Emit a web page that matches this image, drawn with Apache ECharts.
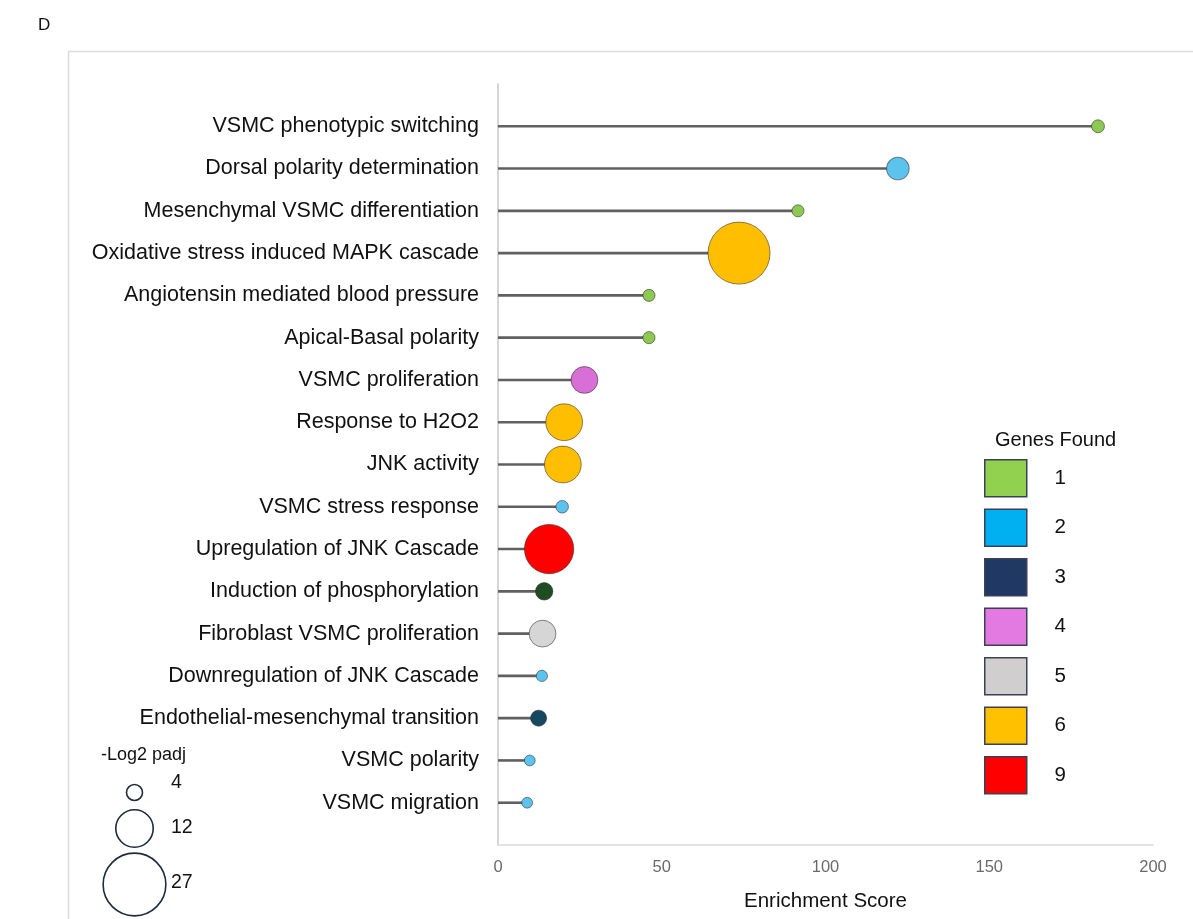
<!DOCTYPE html>
<html>
<head>
<meta charset="utf-8">
<script src="https://cdn.jsdelivr.net/npm/echarts@6/dist/echarts.min.js"></script>
<style>
  html, body { margin: 0; padding: 0; background: #ffffff; }
  #chart { width: 1193px; height: 919px; }
</style>
</head>
<body>
<div id="chart"></div>
<script>
// Pathway terms, top to bottom
const pathways = [
  'VSMC phenotypic switching',
  'Dorsal polarity determination',
  'Mesenchymal VSMC differentiation',
  'Oxidative stress induced MAPK cascade',
  'Angiotensin mediated blood pressure',
  'Apical-Basal polarity',
  'VSMC proliferation',
  'Response to H2O2',
  'JNK activity',
  'VSMC stress response',
  'Upregulation of JNK Cascade',
  'Induction of phosphorylation',
  'Fibroblast VSMC proliferation',
  'Downregulation of JNK Cascade',
  'Endothelial-mesenchymal transition',
  'VSMC polarity',
  'VSMC migration'
];
const enrichmentScore = [183.2, 122.1, 91.6, 73.6, 46.1, 46.1, 26.4, 20.2, 19.8, 19.6, 15.6, 14.1, 13.6, 13.4, 12.4, 9.7, 8.9];
const negLog2Padj   = [3.2, 6.0, 3.0, 26.5, 3.0, 3.0, 7.5, 11.7, 11.7, 3.1, 18.3, 4.4, 7.5, 2.8, 4.0, 2.7, 2.7];
const genesFound    = [1, 2, 1, 6, 1, 1, 4, 6, 6, 2, 9, 3, 5, 2, 3, 2, 2];

// Legend keys
const geneGroups = [1, 2, 3, 4, 5, 6, 9];
const sizeKeys = [4, 12, 27];
const xTicks = [0, 50, 100, 150, 200];

// Styling
const legendColor = { 1: '#92d050', 2: '#00b0f0', 3: '#1f3864', 4: '#e37ae2', 5: '#d0cece', 6: '#ffc000', 9: '#ff0000' };
const bubbleColor = { 1: '#8dc852', 2: '#5cc3ee', 3: '#174862', 4: '#d86fd6', 5: '#d6d6d6', 6: '#ffbf00', 9: '#ff0000' };
const bubbleColorOverride = { 'Induction of phosphorylation': '#1f4d21' };

// bubble diameter (px) for a -log2 padj value
function sizeOf(v) { return Math.max(6, -13.2 + 14.61 * Math.sqrt(v)); }

const FONT = '"Liberation Sans", Arial, Helvetica, sans-serif';
const chart = echarts.init(document.getElementById('chart'));

const bubbleSeries = geneGroups.map(g => ({
  name: String(g),
  type: 'scatter',
  z: 3,
  itemStyle: { color: legendColor[g], opacity: 1, borderColor: 'rgba(40,40,40,0.55)', borderWidth: 1 },
  symbolSize: v => sizeOf(v[2]),
  data: pathways.map((p, i) => ({ p, i })).filter(o => genesFound[o.i] === g).map(o => ({
    value: [enrichmentScore[o.i], o.i, negLog2Padj[o.i]],
    itemStyle: { color: bubbleColorOverride[o.p] || bubbleColor[g], opacity: 1 }
  }))
}));

const stemSeries = {
  type: 'custom',
  z: 2,
  silent: true,
  renderItem: function (params, api) {
    const a = api.coord([0, api.value(1)]);
    const b = api.coord([api.value(0), api.value(1)]);
    return { type: 'line', shape: { x1: a[0], y1: a[1], x2: b[0], y2: b[1] },
             style: { stroke: '#606060', lineWidth: 2.6 } };
  },
  data: enrichmentScore.map((v, i) => [v, i])
};

const sizeLegend = [];
const sizeCenters = [790, 826, 882];
const sizeTextY = [784, 829, 884];
sizeKeys.forEach((k, j) => {
  const r = sizeOf(k) / 2;
  sizeLegend.push({ type: 'circle', left: 132 - r, top: sizeCenters[j] - r,
    shape: { r: r }, style: { fill: 'none', stroke: '#1d2b3a', lineWidth: 1.6 } });
  sizeLegend.push({ type: 'text', left: 171, top: sizeTextY[j] - 11,
    style: { text: String(k), fontSize: 19.5, fontFamily: FONT, fill: '#111' } });
});

chart.setOption({
  animation: false,
  backgroundColor: '#ffffff',
  textStyle: { fontFamily: FONT },
  title: [
    { text: 'D', left: 33, top: 12, textStyle: { fontSize: 17, fontWeight: 'normal', color: '#111', fontFamily: FONT } },
    { text: 'Genes Found', left: 990, top: 425, textStyle: { fontSize: 20, fontWeight: 'normal', color: '#111', fontFamily: FONT } }
  ],
  grid: { left: 498, right: 40, top: 84, bottom: 74, containLabel: false },
  legend: {
    orient: 'vertical',
    left: 984, top: 459,
    padding: 0,
    itemWidth: 42, itemHeight: 37, itemGap: 11,
    icon: 'rect',
    selectedMode: false,
    data: geneGroups.map(String),
    itemStyle: { borderColor: '#3b4055', borderWidth: 1.5 },
    formatter: n => '    ' + n,
    textStyle: { fontSize: 20.5, color: '#111', fontFamily: FONT }
  },
  xAxis: {
    type: 'value', position: 'bottom',
    min: xTicks[0], max: xTicks[xTicks.length - 1], interval: xTicks[1] - xTicks[0],
    name: 'Enrichment Score', nameLocation: 'middle', nameGap: 46,
    nameTextStyle: { fontSize: 20.5, color: '#111', fontFamily: FONT },
    axisLine: { onZero: false, lineStyle: { color: '#d9d9d9', width: 1.5 } },
    axisTick: { show: false },
    splitLine: { show: false },
    axisLabel: { fontSize: 16.5, color: '#6a6a6a', margin: 14, fontFamily: FONT }
  },
  yAxis: {
    type: 'value', inverse: true, min: -1, max: pathways.length, interval: 1,
    axisLine: { show: true, lineStyle: { color: '#c8c8c8', width: 1.5 } },
    axisTick: { show: false },
    splitLine: { show: false },
    axisLabel: {
      fontSize: 21.5, color: '#111', margin: 19, fontFamily: FONT,
      formatter: v => (v >= 0 && v < pathways.length) ? pathways[v] : ''
    }
  },
  graphic: [
    { type: 'rect', left: 66, top: 49, shape: { width: 1200, height: 900 },
      style: { fill: 'none', stroke: '#dcdcdc', lineWidth: 1.5 }, silent: true, z: -1 },
    { type: 'text', left: 101, top: 746,
      style: { text: '-Log2 padj', fontSize: 18, fontFamily: FONT, fill: '#111' } }
  ].concat(sizeLegend),
  series: [stemSeries].concat(bubbleSeries)
});
</script>
</body>
</html>
